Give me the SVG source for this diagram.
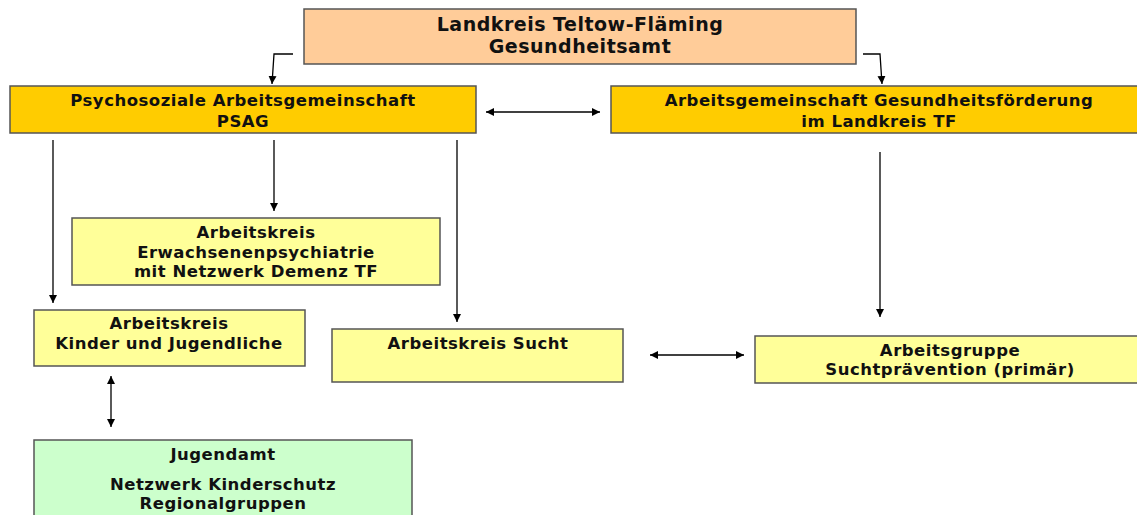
<svg xmlns="http://www.w3.org/2000/svg" width="1137" height="515" viewBox="0 0 1137 515">
<defs>
<marker id="ah" viewBox="0 0 10 10" refX="10" refY="5" markerWidth="8" markerHeight="8" markerUnits="userSpaceOnUse" orient="auto-start-reverse">
<path d="M0,0 L10,5 L0,10 z" fill="#000"/>
</marker>
<style>
.box{stroke:#555;stroke-width:1.5}
.t{font-family:"DejaVu Sans","Open Sans",sans-serif;font-weight:bold;font-size:16.5px;letter-spacing:0.5px;fill:#111;text-anchor:middle}
.big{font-size:19px}
.c{stroke:#000;stroke-width:1.3;fill:none;marker-end:url(#ah)}
.d{marker-start:url(#ah)}
</style>
</defs>
<rect width="1137" height="515" fill="#fff"/>
<g id="connectors">
<polyline class="c" points="293,54 274,54 272,84"/>
<polyline class="c" points="863,54 880,54 882,84"/>
<line class="c d" x1="486" y1="112" x2="600" y2="112"/>
<line class="c" x1="53" y1="140" x2="53" y2="303"/>
<line class="c" x1="274" y1="140" x2="274" y2="211"/>
<line class="c" x1="457" y1="140" x2="457" y2="322"/>
<line class="c" x1="880" y1="152" x2="880" y2="317"/>
<line class="c d" x1="650" y1="355" x2="744" y2="355"/>
<line class="c d" x1="111" y1="376" x2="111" y2="427"/>
</g>
<g id="n-gesundheitsamt">
<rect class="box" x="304" y="9" width="552" height="55" fill="#FFCC99"/>
<text class="t big" x="580" y="31">Landkreis Teltow-Fläming</text>
<text class="t big" x="580" y="53">Gesundheitsamt</text>
</g>
<g id="n-psag">
<rect class="box" x="10" y="86" width="466" height="47" fill="#FFCC00"/>
<text class="t" x="243" y="106">Psychosoziale Arbeitsgemeinschaft</text>
<text class="t" x="243" y="127">PSAG</text>
</g>
<g id="n-ag-gesundheit">
<rect class="box" x="611" y="86" width="530" height="47" fill="#FFCC00"/>
<text class="t" x="879" y="106">Arbeitsgemeinschaft Gesundheitsförderung</text>
<text class="t" x="879" y="127">im Landkreis TF</text>
</g>
<g id="n-erwachsenen">
<rect class="box" x="72" y="218" width="368" height="67" fill="#FFFF99"/>
<text class="t" x="256" y="238">Arbeitskreis</text>
<text class="t" x="256" y="258">Erwachsenenpsychiatrie</text>
<text class="t" x="256" y="277">mit Netzwerk Demenz TF</text>
</g>
<g id="n-kinder">
<rect class="box" x="34" y="310" width="271" height="56" fill="#FFFF99"/>
<text class="t" x="169" y="329">Arbeitskreis</text>
<text class="t" x="169" y="349">Kinder und Jugendliche</text>
</g>
<g id="n-sucht">
<rect class="box" x="332" y="329" width="291" height="53" fill="#FFFF99"/>
<text class="t" x="478" y="349">Arbeitskreis Sucht</text>
</g>
<g id="n-suchtpraevention">
<rect class="box" x="755" y="336" width="386" height="47" fill="#FFFF99"/>
<text class="t" x="950" y="356">Arbeitsgruppe</text>
<text class="t" x="950" y="375">Suchtprävention (primär)</text>
</g>
<g id="n-jugendamt">
<rect class="box" x="34" y="440" width="378" height="80" fill="#CCFFCC"/>
<text class="t" x="223" y="460">Jugendamt</text>
<text class="t" x="223" y="490">Netzwerk Kinderschutz</text>
<text class="t" x="223" y="509">Regionalgruppen</text>
</g>
</svg>
